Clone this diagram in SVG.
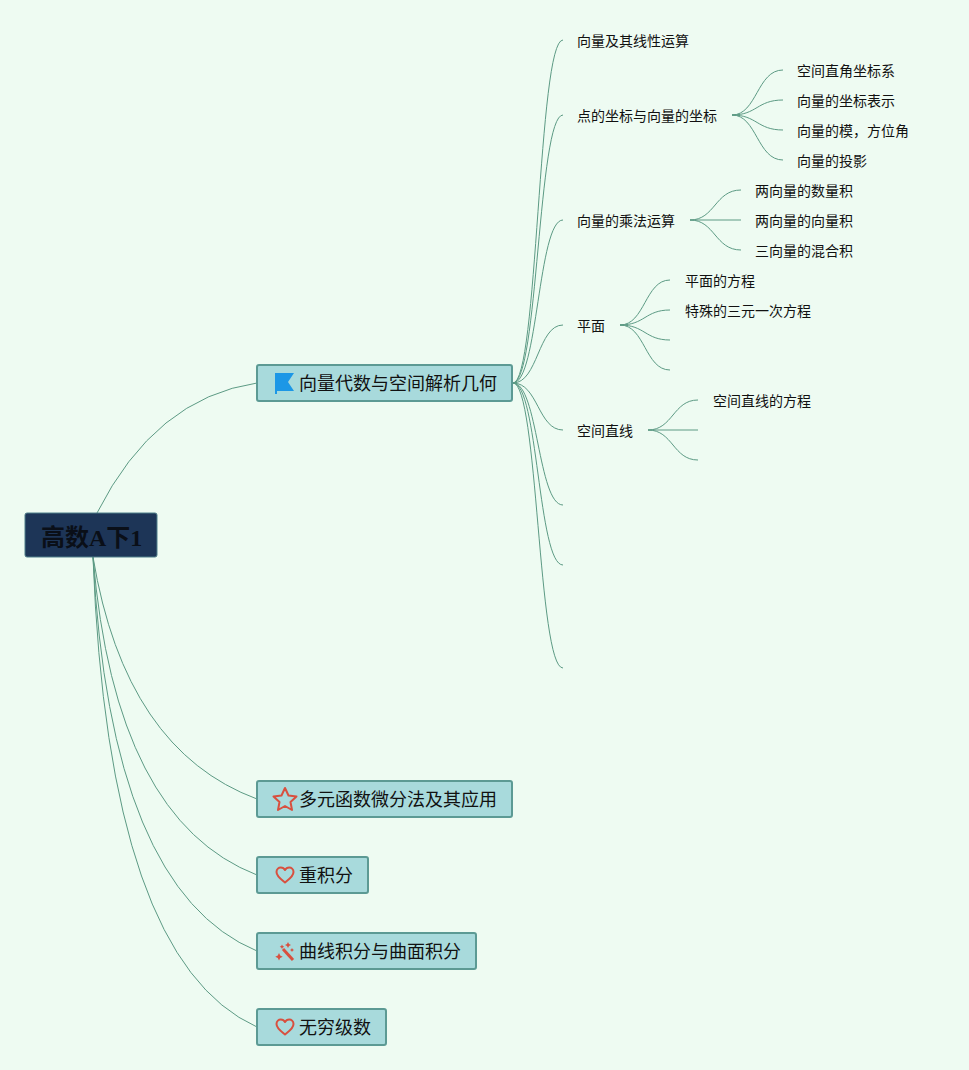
<svg xmlns="http://www.w3.org/2000/svg" width="969" height="1070" viewBox="0 0 969 1070">
<defs>
<style>
text{font-family:"Liberation Sans","Noto Sans CJK SC",sans-serif;fill:#111}
.leaf{font-size:14px}
.branch{font-size:18px}
.root{font-family:"Liberation Serif","Noto Sans CJK SC",serif;font-size:24px;font-weight:700;fill:#0a0f18}
.box{fill:#a8dadc;stroke:#5c9a94;stroke-width:2}
.rbox{fill:#1d3557;stroke:#4f7f8a;stroke-width:1}
.links path{fill:none;stroke:#5c9a84;stroke-width:1}
.icon{fill:none;stroke:#d8503f;stroke-width:2;stroke-linejoin:round}
</style>
<path id="heart" d="M0 7.5C-3 5-8.500 1.500-8.500-3C-8.500-6-6.300-7.500-4.200-7.500C-2.300-7.500-.8-6.500 0-5C.8-6.500 2.300-7.500 4.200-7.500C6.300-7.500 8.500-6 8.500-3C8.500 1.500 3 5 0 7.500Z"/>
</defs>
<rect width="969" height="1070" fill="#eefbf2"/>
<g class="links" id="connectors">
<path d="M97 513Q155 398 257 383"/>
<path d="M93 557Q125 750 257 799"/>
<path d="M93 557Q115 820 257 875"/>
<path d="M93 557Q110 890 257 951"/>
<path d="M93 557Q108 960 257 1027"/>
<path d="M513 383C538 383 538 40 563 40"/>
<path d="M513 383C538 383 538 115 563 115"/>
<path d="M513 383C538 383 538 220 563 220"/>
<path d="M513 383C538 383 538 325 563 325"/>
<path d="M513 383C538 383 538 430 563 430"/>
<path d="M513 383C538 383 538 505 563 505"/>
<path d="M513 383C538 383 538 565 563 565"/>
<path d="M513 383C538 383 538 668 563 668"/>
<path d="M732 115C757 115 757 70 783 70"/>
<path d="M732 115C757 115 757 100 783 100"/>
<path d="M732 115C757 115 757 130 783 130"/>
<path d="M732 115C757 115 757 160 783 160"/>
<path d="M690 220C715 220 715 190 741 190"/>
<path d="M690 220H741"/>
<path d="M690 220C715 220 715 250 741 250"/>
<path d="M620 325C645 325 645 280 670 280"/>
<path d="M620 325C645 325 645 310 670 310"/>
<path d="M620 325C645 325 645 340 670 340"/>
<path d="M620 325C645 325 645 370 670 370"/>
<path d="M648 430C673 430 673 400 698 400"/>
<path d="M648 430H698"/>
<path d="M648 430C673 430 673 460 698 460"/>
</g>
<g id="root"><rect class="rbox" x="25" y="513" width="132" height="44" rx="2"/><text class="root" x="41" y="546">高数A下1</text></g>
<g id="n1"><rect class="box" x="257" y="365" width="255" height="36" rx="2"/>
<path d="M275 373H294L288 382L294 391H277V394H275Z" fill="#1c97e6"/>
<text class="branch" x="299" y="390">向量代数与空间解析几何</text></g>
<g id="n2"><rect class="box" x="257" y="781" width="255" height="36" rx="2"/>
<path class="icon" d="M285 788L288.500 795.500L296.500 796.500L290.500 802L292 810L285 806L278 810L279.500 802L273.500 796.500L281.500 795.500Z"/>
<text class="branch" x="299" y="806">多元函数微分法及其应用</text></g>
<g id="n3"><rect class="box" x="257" y="857" width="111" height="36" rx="2"/>
<use href="#heart" class="icon" x="285" y="875"/>
<text class="branch" x="299" y="882">重积分</text></g>
<g id="n4"><rect class="box" x="257" y="933" width="219" height="36" rx="2"/>
<path d="M283 949L293 960" stroke="#d8503f" stroke-width="3" fill="none"/>
<path d="M288 942l1 2 2 1-2 1-1 2-1-2-2-1 2-1zM279 953l1.200 2.500 2.500 1.200-2.500 1.200-1.200 2.500-1.200-2.500-2.500-1.200 2.500-1.200zM282 944.500l.8 1.500 1.500.8-1.500.8-.8 1.500-.8-1.500-1.500-.8 1.500-.8zM292 948l.7 1.300 1.300.7-1.300.7-.7 1.300-.7-1.300-1.300-.7 1.300-.7z" fill="#d8503f"/>
<text class="branch" x="299" y="958">曲线积分与曲面积分</text></g>
<g id="n5"><rect class="box" x="257" y="1009" width="129" height="36" rx="2"/>
<use href="#heart" class="icon" x="285" y="1027"/>
<text class="branch" x="299" y="1034">无穷级数</text></g>
<g id="l1"><text class="leaf" x="577" y="46">向量及其线性运算</text></g>
<g id="l2"><text class="leaf" x="577" y="121">点的坐标与向量的坐标</text></g>
<g id="l3"><text class="leaf" x="577" y="226">向量的乘法运算</text></g>
<g id="l4"><text class="leaf" x="577" y="331">平面</text></g>
<g id="l5"><text class="leaf" x="577" y="436">空间直线</text></g>
<g id="l21"><text class="leaf" x="797" y="76">空间直角坐标系</text></g>
<g id="l22"><text class="leaf" x="797" y="106">向量的坐标表示</text></g>
<g id="l23"><text class="leaf" x="797" y="136">向量的模，方位角</text></g>
<g id="l24"><text class="leaf" x="797" y="166">向量的投影</text></g>
<g id="l31"><text class="leaf" x="755" y="196">两向量的数量积</text></g>
<g id="l32"><text class="leaf" x="755" y="226">两向量的向量积</text></g>
<g id="l33"><text class="leaf" x="755" y="256">三向量的混合积</text></g>
<g id="l41"><text class="leaf" x="685" y="286">平面的方程</text></g>
<g id="l42"><text class="leaf" x="685" y="316">特殊的三元一次方程</text></g>
<g id="l51"><text class="leaf" x="713" y="406">空间直线的方程</text></g>
</svg>
